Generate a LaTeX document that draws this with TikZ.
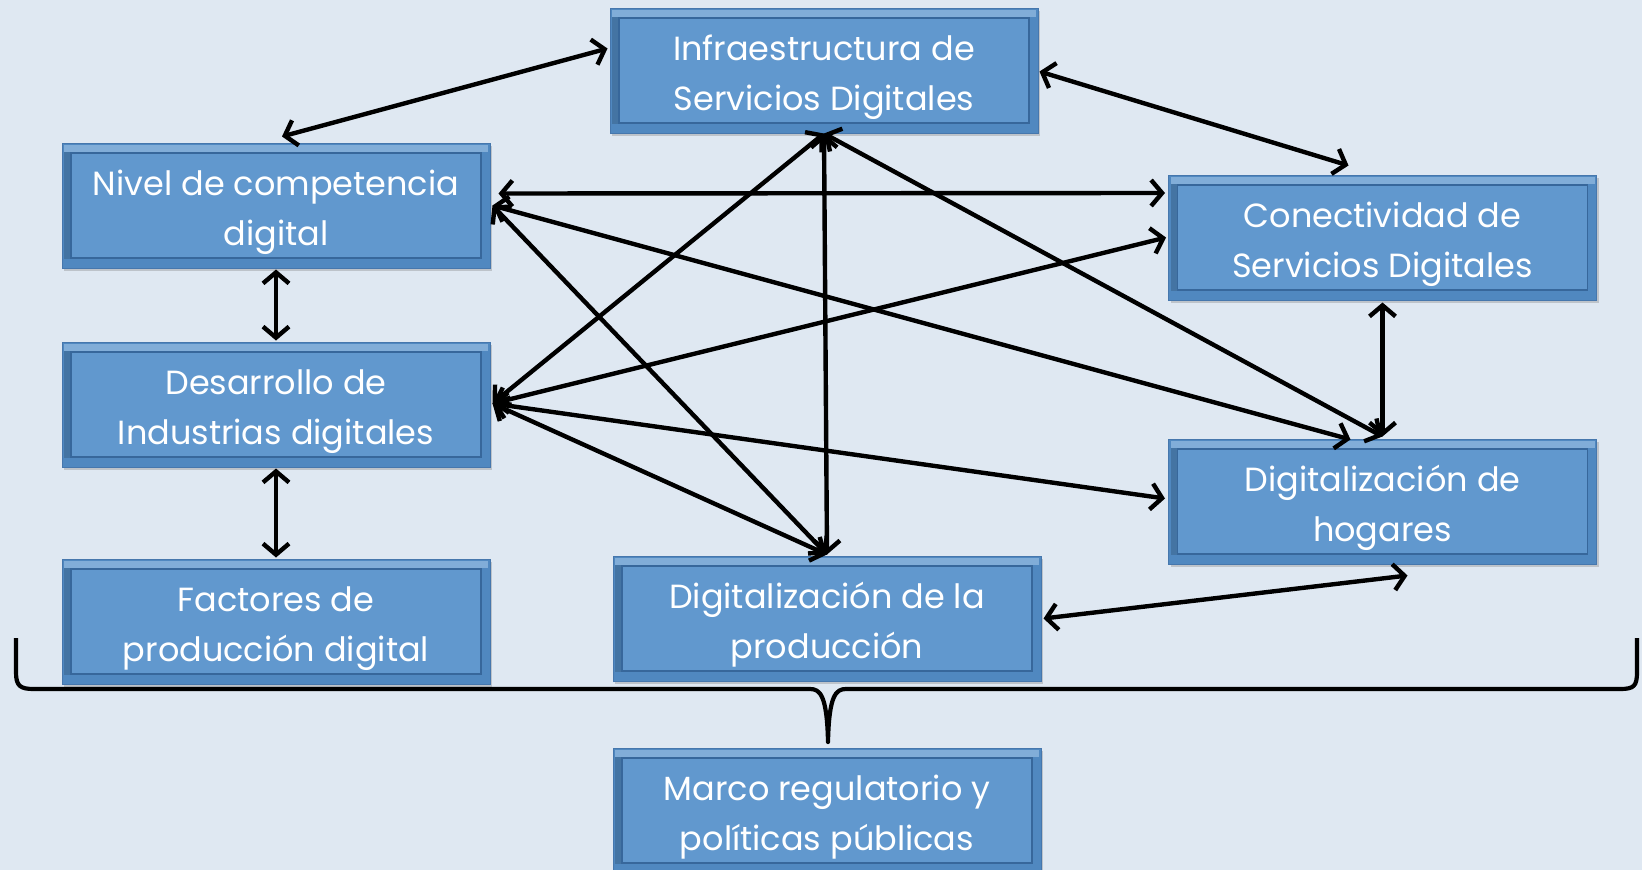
\documentclass[tikz,border=0pt]{standalone}
\usepackage{fontspec}
\setmainfont{Poppins}
\usetikzlibrary{calc,arrows.meta,shadows}
\definecolor{bgc}{HTML}{DFE8F2}
\definecolor{boxout}{HTML}{5088C0}
\definecolor{boxin}{HTML}{6198CE}
\definecolor{boxline}{HTML}{37679B}
\definecolor{boxedge}{HTML}{4677AD}
\newcommand\twoline[2]{\raisebox{-5pt}[\height][\depth]{\begin{tabular}{@{}c@{}}#1\\#2\end{tabular}}}
\begin{document}
\begin{tikzpicture}[x=1pt,y=-1pt,
  box/.style={rectangle, minimum width=428pt, minimum height=125pt, inner sep=0pt,
    fill=boxout, draw=boxedge, line width=1pt,
    drop shadow={shadow xshift=2pt, shadow yshift=-3pt, opacity=0.35},
    path picture={
      \fill[boxin!80!white] ([xshift=2pt,yshift=-2pt]path picture bounding box.north west) rectangle ([xshift=-2pt,yshift=-9pt]path picture bounding box.north east);
      \fill[boxout!85!black] ([xshift=2pt,yshift=-9pt]path picture bounding box.north west) rectangle ([xshift=9pt,yshift=9pt]path picture bounding box.south west);
      \fill[boxin, draw=boxline, line width=1.8pt] ([xshift=9pt,yshift=-10pt]path picture bounding box.north west) rectangle ([xshift=-9pt,yshift=10pt]path picture bounding box.south east);
    },
    text=white, align=center, font=\fontsize{33.5}{50}\selectfont},
  link/.style={{Straight Barb[length=11pt,width=26pt]}-{Straight Barb[length=11pt,width=26pt]}, line width=4.4pt, black, line cap=round}
]
\fill[bgc] (0,0) rectangle (1642,870);
\useasboundingbox (0,0) rectangle (1642,870);
\begin{scope}
\clip (0,0) rectangle (1642,870);
\node[box] (infra) at (824,70.5) {\twoline{Infraestructura de}{Servicios Digitales}};
\node[box] (nivel) at (276,205.5) {\twoline{Nivel de competencia}{digital}};
\node[box] (conect) at (1382.5,237.5) {\twoline{Conectividad de}{Servicios Digitales}};
\node[box] (desarrollo) at (276,404.5) {\twoline{Desarrollo de}{Industrias digitales}};
\node[box] (hogares) at (1382.5,501.5) {\twoline{Digitalización de}{hogares}};
\node[box] (factores) at (276,621.5) {\twoline{Factores de}{producción digital}};
\node[box] (digprod) at (827,618.5) {\twoline{Digitalización de la}{producción}};
\node[box] (marco) at (827,810.5) {\twoline{Marco regulatorio y}{políticas públicas}};

\draw[link] ($(nivel.north)+(6,-6)$) -- ($(infra.west)+(-2,-22)$);
\draw[link] ($(infra.east)+(1,1)$) -- ($(conect.north)+(-34,-9)$);
\draw[link] ($(nivel.east)+(8,-12)$) -- ($(conect.west)+(-3,-44.5)$);
\draw[link] ($(nivel.east)+(2,0)$) -- ($(hogares.north)+(-32,1)$);
\draw[link] ($(nivel.east)+(2,0)$) -- ($(digprod.north)+(0,-1)$);
\draw[link] (infra.south) -- ($(desarrollo.east)+(2,-1)$);
\draw[link] (infra.south) -- ($(digprod.north)+(0,-1)$);
\draw[link] (infra.south) -- ($(hogares.north)+(0,-2)$);
\draw[link] ($(conect.west)+(-2,0)$) -- ($(desarrollo.east)+(2,-1)$);
\draw[link] ($(desarrollo.east)+(2,-1)$) -- ($(hogares.west)+(-3,-3)$);
\draw[link] ($(desarrollo.east)+(2,-1)$) -- ($(digprod.north)+(0,-1)$);
\draw[link] ($(conect.south)+(0,2)$) -- ($(hogares.north)+(0,-2)$);
\draw[link] ($(digprod.east)+(2,0)$) -- ($(hogares.south)+(25,11)$);
\draw[link] ($(nivel.south)+(0,1)$) -- ($(desarrollo.north)+(0,-1)$);
\draw[link] ($(desarrollo.south)+(0,1)$) -- ($(factores.north)+(0,-1)$);

\draw[line width=4.2pt, black, line join=round]
  (16,638) -- (16,672) .. controls (16,686) and (20,689) .. (34,689)
  -- (810,689) .. controls (820,689) and (827,695) .. (828,742)
  .. controls (829,695) and (836,689) .. (846,689)
  -- (1620,689) .. controls (1634,689) and (1637,686) .. (1637,672) -- (1637,638);
\end{scope}
\end{tikzpicture}
\end{document}
